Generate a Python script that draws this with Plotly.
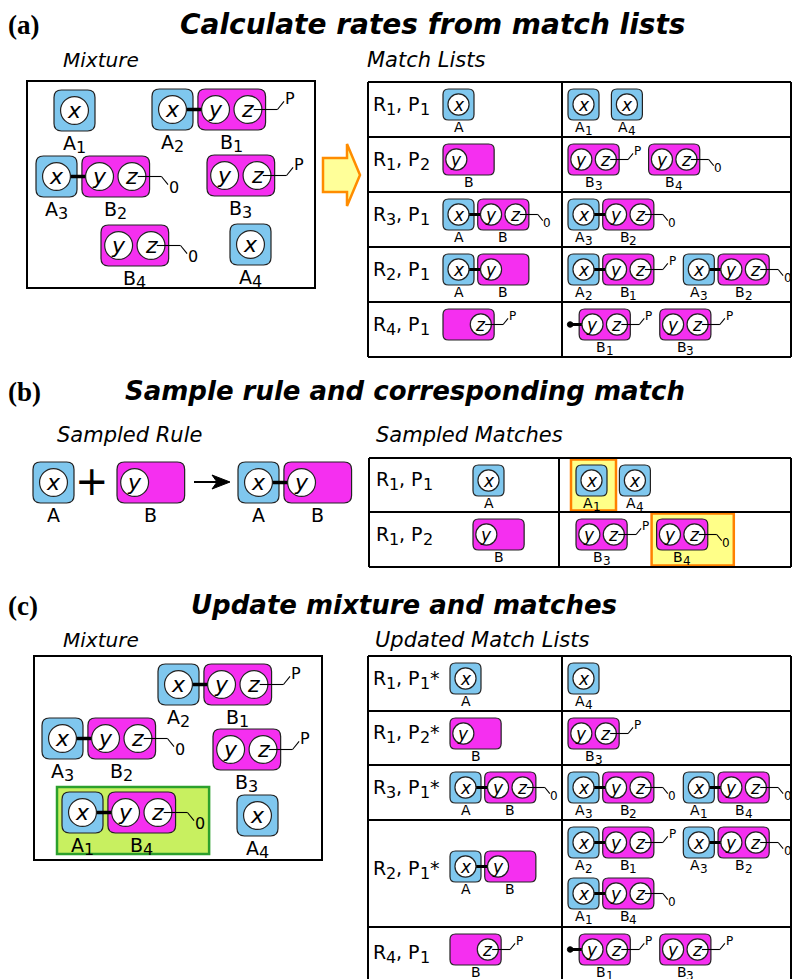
import plotly.graph_objects as go

# ---------------- data ----------------
B_STATE = {"1": "P", "2": "0", "3": "P", "4": "0"}

MIXTURE_A = ["A1", "A2-B1", "A3-B2", "B3", "B4", "A4"]
MIXTURE_C = ["A2-B1", "A3-B2", "B3", "A1-B4", "A4"]

RULES_A = [("1", "1", ""), ("1", "2", ""), ("3", "1", ""), ("2", "1", ""), ("4", "1", "")]
PATTERNS_A = ["A(x)", "B(y)", "A(x)-B(y,z~0)", "A(x)-B(y)", "B(z~P)"]
MATCHES_A = [["A1", "A4"], ["B3", "B4"], ["A3-B2"], ["A2-B1", "A3-B2"], ["!B1", "B3"]]

RULE_SAMPLED = ["A(x)", "B(y)", "A(x)-B(y)"]
RULES_B = [("1", "1", ""), ("1", "2", "")]
PATTERNS_B = ["A(x)", "B(y)"]
MATCHES_B = [["A1", "A4"], ["B3", "B4"]]
SAMPLED = ["A1", "B4"]

RULES_C = [("1", "1", "*"), ("1", "2", "*"), ("3", "1", "*"), ("2", "1", "*"), ("4", "1", "")]
PATTERNS_C = PATTERNS_A
MATCHES_C = [["A4"], ["B3"], ["A3-B2", "A1-B4"], ["A2-B1", "A3-B2", "A1-B4"], ["!B1", "B3"]]
NEW_COMPLEX = "A1-B4"

TITLES = ["Calculate rates from match lists", "Sample rule and corresponding match",
          "Update mixture and matches"]
PANEL_TAGS = ["(a)", "(b)", "(c)"]

# ---------------- style ----------------
BLUE = "#7fc7ee"
MAGENTA = "#f52ff0"
EDGE = "#222222"
FONT = "DejaVu Sans"
CHAR_W = {"A": 0.684, "B": 0.686, "R": 0.695, "P": 0.603, ",": 0.318, " ": 0.318, "*": 0.5}

shapes = []
annots = []


def rrect(x0, y0, x1, y1, r, fill, color=EDGE, lw=1.2):
    p = (f"M {x0+r},{y0} L {x1-r},{y0} Q {x1},{y0} {x1},{y0+r} "
         f"L {x1},{y1-r} Q {x1},{y1} {x1-r},{y1} L {x0+r},{y1} "
         f"Q {x0},{y1} {x0},{y1-r} L {x0},{y0+r} Q {x0},{y0} {x0+r},{y0} Z")
    shapes.append(dict(type="path", path=p, xref="x", yref="y", fillcolor=fill,
                       line=dict(color=color, width=lw), layer="above"))


def rect(x0, y0, x1, y1, fill="rgba(0,0,0,0)", color="black", lw=2):
    shapes.append(dict(type="rect", x0=x0, y0=y0, x1=x1, y1=y1, xref="x", yref="y",
                       fillcolor=fill, line=dict(color=color, width=lw), layer="above"))


def line(x0, y0, x1, y1, lw=1.2, color="black"):
    shapes.append(dict(type="line", x0=x0, y0=y0, x1=x1, y1=y1, xref="x", yref="y",
                       line=dict(color=color, width=lw), layer="above"))


def circle(cx, cy, r, fill="white", color=EDGE, lw=1.2):
    shapes.append(dict(type="circle", x0=cx-r, y0=cy-r, x1=cx+r, y1=cy+r, xref="x", yref="y",
                       fillcolor=fill, line=dict(color=color, width=lw), layer="above"))


def text(x, y, s, size, xanchor="center", yanchor="middle", italic=False, bold=False,
         family=FONT, color="black"):
    annots.append(dict(x=x, y=y, xref="x", yref="y", text=s, showarrow=False,
                       xanchor=xanchor, yanchor=yanchor, borderpad=0, borderwidth=0,
                       font=dict(family=family, size=int(round(size)), color=color,
                                 style="italic" if italic else "normal",
                                 weight="bold" if bold else "normal")))


def seg_width(s, size):
    return sum(CHAR_W.get(c, 0.636) for c in s) * size


def rich(x, y, segs, anchor="left"):
    total = sum(seg_width(s, f) for s, f, _ in segs)
    cur = x if anchor == "left" else x - total / 2
    for s, f, dy in segs:
        if s:
            text(cur, y + dy, s, f, xanchor="left")
        cur += seg_width(s, f)


def parse(spec):
    stub = spec.startswith("!")
    spec = spec.lstrip("!")
    mols = []
    for tok in spec.split("-"):
        kind = tok[0]
        if "(" in tok:
            sites, state = [], None
            for part in tok[2:-1].split(","):
                if "~" in part:
                    part, state = part.split("~")
                sites.append(part)
            idx = ""
        else:
            idx = tok[1:]
            sites = ["x"] if kind == "A" else ["y", "z"]
            state = None if kind == "A" else B_STATE[idx]
        mols.append(dict(kind=kind, sites=sites, state=state, idx=idx))
    return stub, mols


def width_of(spec, s):
    stub, mols = parse(spec)
    w = 0.36 * s if stub else 0
    for i, m in enumerate(mols):
        w += (s if m["kind"] == "A" else 1.65 * s) + (0.12 * s if i else 0)
    if mols[-1]["state"]:
        w += 0.55 * s
    return w


SITE_OFF = {"x": 0.5, "y": 0.43, "z": 1.22}


def draw_complex(spec, x, y, s, labels=True, lw_bond=3):
    stub, mols = parse(spec)
    cy = y + s / 2
    r = 0.34 * s
    xc = x + (0.36 * s if stub else 0)
    boxes = []
    for m in mols:
        w = s if m["kind"] == "A" else 1.65 * s
        boxes.append((xc, w))
        xc += w + 0.12 * s
    for (bx, w), m in zip(boxes, mols):
        rrect(bx, y, bx + w, y + s, 0.18 * s, BLUE if m["kind"] == "A" else MAGENTA)
    for i in range(1, len(mols)):
        ax0 = boxes[i - 1][0] + SITE_OFF["x"] * s + r
        bx1 = boxes[i][0] + SITE_OFF["y"] * s - r
        line(ax0 - 1, cy, bx1 + 1, cy, lw=lw_bond)
    if stub:
        dx = x + 0.07 * s
        circle(dx, cy, 0.09 * s, fill="black", color="black", lw=1)
        line(dx, cy, boxes[0][0] + SITE_OFF["y"] * s - r + 1, cy, lw=lw_bond)
    fl = 0.46 * s
    for (bx, w), m in zip(boxes, mols):
        for site in m["sites"]:
            cx = bx + SITE_OFF[site] * s
            circle(cx, cy, r)
            text(cx, cy, site, 0.54 * s, italic=True)
        if m["state"]:
            zc = bx + SITE_OFF["z"] * s
            sign = -1 if m["state"] == "P" else 1
            line(zc + 0.14 * s, cy, zc + 0.72 * s, cy, lw=1.1)
            line(zc + 0.72 * s, cy, zc + 0.88 * s, cy + sign * 0.2 * s, lw=1.1)
            text(zc + 1.03 * s, cy + sign * 0.27 * s, m["state"], 0.39 * s)
        if labels:
            ly = y + s + 0.45 * s - 6.5
            rich(bx + w / 2, ly, [(m["kind"], fl, 0), (m["idx"], fl * 0.84, 0.24 * fl)],
                 anchor="center")
    return x + width_of(spec, s)


def rule_label(x, y, rule):
    rn, pn, star = rule
    rich(x, y, [("R", 19, 0), (rn, 16, 5.5), (", P", 19, 0), (pn, 16, 5.5), (star, 19, 0)])


def draw_table(left, top, heights, divider, rules, patterns, matches, lab_x, pat_x,
               match_x, s=31, pattern_labels=None, highlight=None, right=791):
    ys = [top]
    for h in heights:
        ys.append(ys[-1] + h)
    row_items = []
    for i, (rule, pat, ms) in enumerate(zip(rules, patterns, matches)):
        rt, rb = ys[i], ys[i + 1]
        pos = []
        x = match_x
        yy = rt + 7
        for m in ms:
            w = width_of(m, s)
            if x + w > right:
                x = match_x
                yy += 51
            pos.append((m, x, yy, w))
            x += w + 0.4 * s
        row_items.append(pos)
        if highlight:
            for m, mx, my, w in pos:
                if m in highlight:
                    rect(mx - 5, rt + 1.5, mx + w + 9, rb - 1.5, fill="#ffff88",
                         color="#ff8000", lw=2.5)
    line(left, ys[0], right, ys[0], lw=2)
    for yv in ys[1:]:
        line(left, yv, right, yv, lw=2)
    line(left, ys[0], left, ys[-1], lw=2)
    line(right, ys[0], right, ys[-1], lw=2)
    line(divider, ys[0], divider, ys[-1], lw=2)
    for i, (rule, pat) in enumerate(zip(rules, patterns)):
        rt, rb = ys[i], ys[i + 1]
        rule_label(lab_x, (rt + min(rb, rt + 110)) / 2 - 6, rule)
        py = rt + 7 if rb - rt < 80 else rt + (rb - rt - 45) / 2
        show = True if pattern_labels is None else pattern_labels[i]
        draw_complex(pat, pat_x, py, s, labels=show)
        for m, mx, my, w in row_items[i]:
            draw_complex(m, mx, my, s)


# ---------------- headers ----------------
for tag, title, (tx, ty, fs) in zip(PANEL_TAGS, TITLES,
                                    [(432, 24, 28), (405, 391, 26), (404, 605, 26)]):
    text(8, ty + 1, tag, 27, xanchor="left", bold=True, family="Liberation Serif")
    text(tx, ty, title, fs, bold=True, italic=True)

# ---------------- panel (a) ----------------
text(63, 60, "Mixture", 20, xanchor="left", italic=True)
text(367, 60, "Match Lists", 21, xanchor="left", italic=True)
rect(27, 81, 315, 288, lw=2)
MIX_A_POS = [(54, 90), (152, 89), (36, 156), (207, 155), (101, 225), (230, 224)]
for spec, (x, y) in zip(MIXTURE_A, MIX_A_POS):
    draw_complex(spec, x, y, 41, lw_bond=3.5)
shapes.append(dict(type="path", xref="x", yref="y",
                   path="M 323,158 L 347,158 L 347,144 L 360,175 L 347,206 L 347,192 L 323,192 Z",
                   fillcolor="#ffff99", line=dict(color="#ff8c00", width=2.5), layer="above"))
draw_table(368, 82, [55, 55, 55, 55, 55], 562, RULES_A, PATTERNS_A, MATCHES_A,
           373, 443, 568, pattern_labels=[True, True, True, True, False])

# ---------------- panel (b) ----------------
text(57, 435, "Sampled Rule", 21, xanchor="left", italic=True)
text(376, 435, "Sampled Matches", 21, xanchor="left", italic=True)
RULE_POS = [(33, 462), (117, 462), (238, 462)]
for spec, (x, y) in zip(RULE_SAMPLED, RULE_POS):
    draw_complex(spec, x, y, 41, lw_bond=3.5)
text(92, 481, "+", 40)
line(194, 482, 222, 482, lw=2)
shapes.append(dict(type="path", xref="x", yref="y",
                   path="M 230,482 L 212,475 L 217,482 L 212,489 Z",
                   fillcolor="black", line=dict(color="black", width=1), layer="above"))
draw_table(369, 458, [54, 55], 559, RULES_B, PATTERNS_B, MATCHES_B,
           376, 473, 576, highlight=SAMPLED)

# ---------------- panel (c) ----------------
text(63, 640, "Mixture", 20, xanchor="left", italic=True)
text(375, 640, "Updated Match Lists", 21, xanchor="left", italic=True)
rect(34, 656, 322, 860, lw=2)
MIX_C_POS = [(158, 664), (42, 718), (213, 729), (62, 792), (237, 795)]
for spec, (x, y) in zip(MIXTURE_C, MIX_C_POS):
    if spec == NEW_COMPLEX:
        rect(x - 5, y - 5, x + width_of(spec, 41) + 11, y + 62, fill="#c8f060",
             color="#2ca02c", lw=2.5)
for spec, (x, y) in zip(MIXTURE_C, MIX_C_POS):
    draw_complex(spec, x, y, 41, lw_bond=3.5)
draw_table(368, 656, [55, 54, 55, 107, 62], 562, RULES_C, PATTERNS_C, MATCHES_C,
           373, 450, 568)

fig = go.Figure(go.Scatter(x=[], y=[]))
fig.update_layout(width=792, height=979, margin=dict(l=0, r=0, t=0, b=0),
                  paper_bgcolor="white", plot_bgcolor="white",
                  xaxis=dict(range=[0, 792], visible=False, fixedrange=True),
                  yaxis=dict(range=[979, 0], visible=False, fixedrange=True),
                  shapes=shapes, annotations=annots, showlegend=False)
fig.write_html("out.html", config={"displayModeBar": False},
               post_script="document.body.style.margin='0';document.body.style.overflow='hidden';")
